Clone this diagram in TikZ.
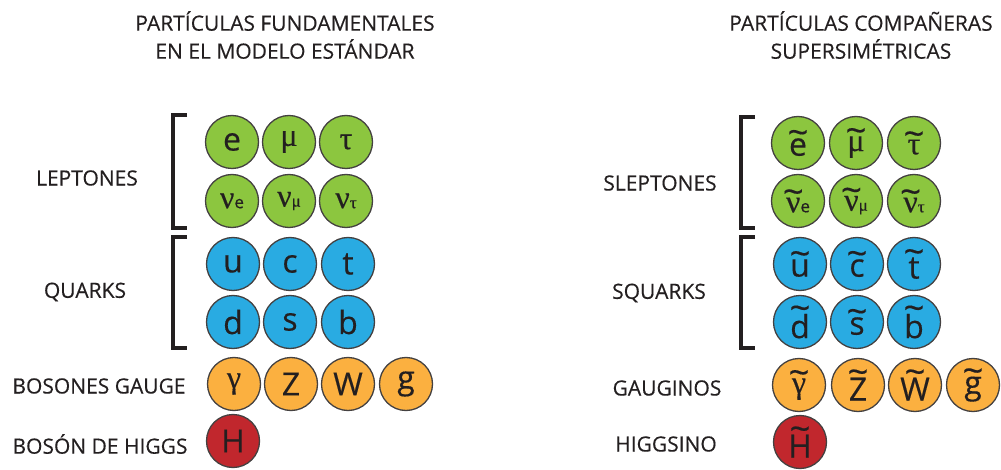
\documentclass[tikz,border=0pt]{standalone}
\usepackage{fontspec}
\usepackage{graphicx}
\setmainfont{Open Sans}[BoldFont={Open Sans}, BoldFeatures={FakeBold=0.35}]
\newfontfamily\grk{Liberation Serif}[BoldFont={Liberation Serif}, BoldFeatures={FakeBold=0.35}]
\definecolor{lep}{HTML}{8CC63F}
\definecolor{qrk}{HTML}{29ABE2}
\definecolor{gau}{HTML}{FBB040}
\definecolor{hig}{HTML}{C1272D}
\definecolor{ink}{HTML}{231F20}
\newcommand\tl[1]{\setbox0\hbox{#1}\rlap{\hbox to\wd0{\hss\raisebox{\dimexpr\ht0-0.2em\relax}{\scalebox{1.15}[1.1]{\char"7E}}\hss}}\box0}
\newcommand\gk[1]{{\grk #1}}
\newcommand\nuof[1]{{\grk ν}{\fontsize{17}{17}\selectfont #1}}
\newcommand\tnuof[1]{\tl{\grk ν}{\fontsize{17}{17}\selectfont #1}}
\tikzset{
  part/.style={circle, draw=ink!85, line width=1.3pt, minimum size=53pt, inner sep=0pt,
    text=ink, font=\fontsize{32}{34}\selectfont\bfseries},
  lp/.style={part, fill=lep},
  qk/.style={part, fill=qrk},
  gb/.style={part, fill=gau},
  hg/.style={part, fill=hig},
  lbl/.style={text=ink, font=\fontsize{21}{24}\selectfont\bfseries, inner sep=0pt},
  ttl/.style={text=ink, font=\fontsize{21}{28}\selectfont\bfseries, align=center, inner sep=0pt},
  brk/.style={line width=3.5pt, draw=ink, line join=miter}
}
\begin{document}
\begin{tikzpicture}[x=1pt,y=-1pt]
\useasboundingbox (0,0) rectangle (1001,470);
% titles
\node[ttl] (t1) at (285,35) {PARTÍCULAS FUNDAMENTALES\\EN EL MODELO ESTÁNDAR};
\node[ttl] (t2) at (861,35) {PARTÍCULAS COMPAÑERAS\\SUPERSIMÉTRICAS};
% left labels
\node[lbl] (l1) at (87,178) {LEPTONES};
\node[lbl] (l2) at (85,292) {QUARKS};
\node[lbl] (l3) at (99,386) {BOSONES GAUGE};
\node[lbl] (l4) at (100,444) {BOSÓN DE HIGGS};
% right labels
\node[lbl] (r1) at (660,183) {SLEPTONES};
\node[lbl] (r2) at (659,293) {SQUARKS};
\node[lbl] (r3) at (667,388) {GAUGINOS};
\node[lbl] (r4) at (666,444) {HIGGSINO};
% brackets
\draw[brk] (187,115) -| (173,228) -- (187,228);
\draw[brk] (187,237) -| (173,348) -- (187,348);
\draw[brk] (755,117) -| (741,228) -- (755,228);
\draw[brk] (755,237) -| (741,348) -- (755,348);
% left particles
\node[lp] (e) at (232,142) {e};
\node[lp] (mu) at (289,142) {\gk{μ}};
\node[lp] (tau) at (346,142) {\gk{τ}};
\node[lp] (ne) at (232,201) {\nuof{e}};
\node[lp] (nm) at (289,201) {\nuof{\gk{μ}}};
\node[lp] (nt) at (346,201) {\nuof{\gk{τ}}};
\node[qk] (u) at (233,264) {u};
\node[qk] (c) at (290,264) {c};
\node[qk] (t) at (348,264) {t};
\node[qk] (d) at (233,322) {d};
\node[qk] (s) at (290,322) {s};
\node[qk] (b) at (348,322) {b};
\node[gb] (ga) at (234,384) {\gk{γ}};
\node[gb] (Z) at (291,384) {Z};
\node[gb] (W) at (348,384) {W};
\node[gb] (g) at (406,384) {g};
\node[hg] (H) at (233,441) {H};
% right particles
\node[lp] (se) at (798,143) {\tl{e}};
\node[lp] (smu) at (856,143) {\tl{\gk{μ}}};
\node[lp] (stau) at (914,143) {\tl{\gk{τ}}};
\node[lp] (sne) at (798,201) {\tnuof{e}};
\node[lp] (snm) at (856,201) {\tnuof{\gk{μ}}};
\node[lp] (snt) at (914,201) {\tnuof{\gk{τ}}};
\node[qk] (su) at (800,264) {\tl{u}};
\node[qk] (sc) at (857,264) {\tl{c}};
\node[qk] (st) at (914,264) {\tl{t}};
\node[qk] (sd) at (800,322) {\tl{d}};
\node[qk] (ss) at (857,322) {\tl{s}};
\node[qk] (sb) at (914,322) {\tl{b}};
\node[gb] (sga) at (799,385) {\tl{\gk{γ}}};
\node[gb] (sZ) at (858,385) {\tl{Z}};
\node[gb] (sW) at (915,385) {\tl{W}};
\node[gb] (sg) at (973,385) {\tl{g}};
\node[hg] (sH) at (800,442) {\tl{H}};
\end{tikzpicture}
\end{document}
